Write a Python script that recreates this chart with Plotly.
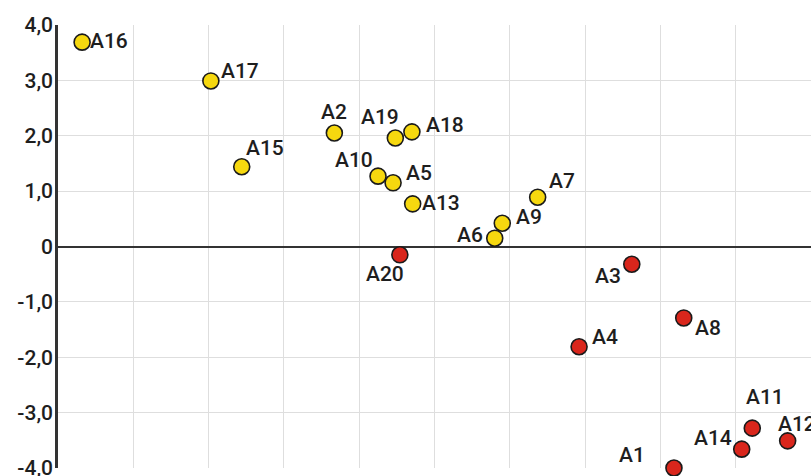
import plotly.graph_objects as go

# ---- data ----
yellow_labels = ["A2", "A5", "A6", "A7", "A9", "A10", "A13", "A15", "A16", "A17", "A18", "A19"]
yellow_x = [3.67, 4.45, 5.80, 6.37, 5.90, 4.25, 4.71, 2.44, 0.32, 2.03, 4.70, 4.48]
yellow_y = [2.05, 1.15, 0.15, 0.89, 0.42, 1.27, 0.77, 1.44, 3.69, 2.99, 2.07, 1.96]

red_labels = ["A1", "A3", "A4", "A8", "A11", "A12", "A14", "A20"]
red_x = [8.18, 7.62, 6.92, 8.31, 9.22, 9.69, 9.08, 4.54]
red_y = [-4.00, -0.32, -1.81, -1.29, -3.28, -3.51, -3.66, -0.15]

y_tickvals = [-4, -3, -2, -1, 0, 1, 2, 3, 4]
y_ticktext = ["-4,0", "-3,0", "-2,0", "-1,0", "0", "1,0", "2,0", "3,0", "4,0"]

# ---- label placement (pixel offsets of label centre from point: dx right, dy down) ----
label_offsets = {
    "A1": (-42, -13), "A2": (0, -21), "A3": (-24, 12), "A4": (26, -10),
    "A5": (26, -10), "A6": (-25, -3), "A7": (24, -16), "A8": (24, 10),
    "A9": (27, -6), "A10": (-24, -16), "A11": (13, -31), "A12": (9, -17),
    "A13": (28, -1), "A14": (-29, -11), "A15": (23, -19), "A16": (27, -1),
    "A17": (29, -10), "A18": (33, -7), "A19": (-15, -21), "A20": (-15, 19),
}

FONT = "Roboto"
TXT = "#1e1e1e"

fig = go.Figure()
for xs, ys, labs, col in [(yellow_x, yellow_y, yellow_labels, "#F6D80F"),
                          (red_x, red_y, red_labels, "#D9261C")]:
    fig.add_trace(go.Scatter(
        x=xs, y=ys, mode="markers", text=labs, cliponaxis=False,
        marker=dict(size=16, color=col, line=dict(color="#1a1a1a", width=1.6)),
        hoverinfo="text", showlegend=False,
    ))

annotations = []
for xs, ys, labs in [(yellow_x, yellow_y, yellow_labels), (red_x, red_y, red_labels)]:
    for x, y, lab in zip(xs, ys, labs):
        dx, dy = label_offsets[lab]
        annotations.append(dict(
            x=x, y=y, xref="x", yref="y", text=lab, showarrow=False,
            xshift=dx, yshift=-dy, xanchor="center", yanchor="middle",
            font=dict(family=FONT, size=21, color=TXT, weight=500),
        ))

fig.update_layout(
    width=811, height=476,
    margin=dict(l=58, r=0, t=25, b=8, autoexpand=False),
    paper_bgcolor="white", plot_bgcolor="white",
    annotations=annotations,
    xaxis=dict(range=[0, 10], dtick=1, tick0=0, showticklabels=False,
               showgrid=True, gridcolor="#dedede", gridwidth=1, automargin=False,
               zeroline=False, showline=False, fixedrange=True),
    yaxis=dict(range=[-4, 4], tickvals=y_tickvals, ticktext=y_ticktext,
               showgrid=True, gridcolor="#dedede", gridwidth=1, automargin=False,
               zeroline=True, zerolinecolor="#333333", zerolinewidth=2,
               showline=True, linecolor="#333333", linewidth=2.5,
               ticks="", ticklabelstandoff=-2, ticklabeloverflow="allow",
               tickfont=dict(family=FONT, size=21, color=TXT, weight=500),
               fixedrange=True),
)

fig.write_html(
    "out.html",
    config={"displayModeBar": False},
    post_script="document.body.style.margin='0';document.body.style.overflow='hidden';",
)
